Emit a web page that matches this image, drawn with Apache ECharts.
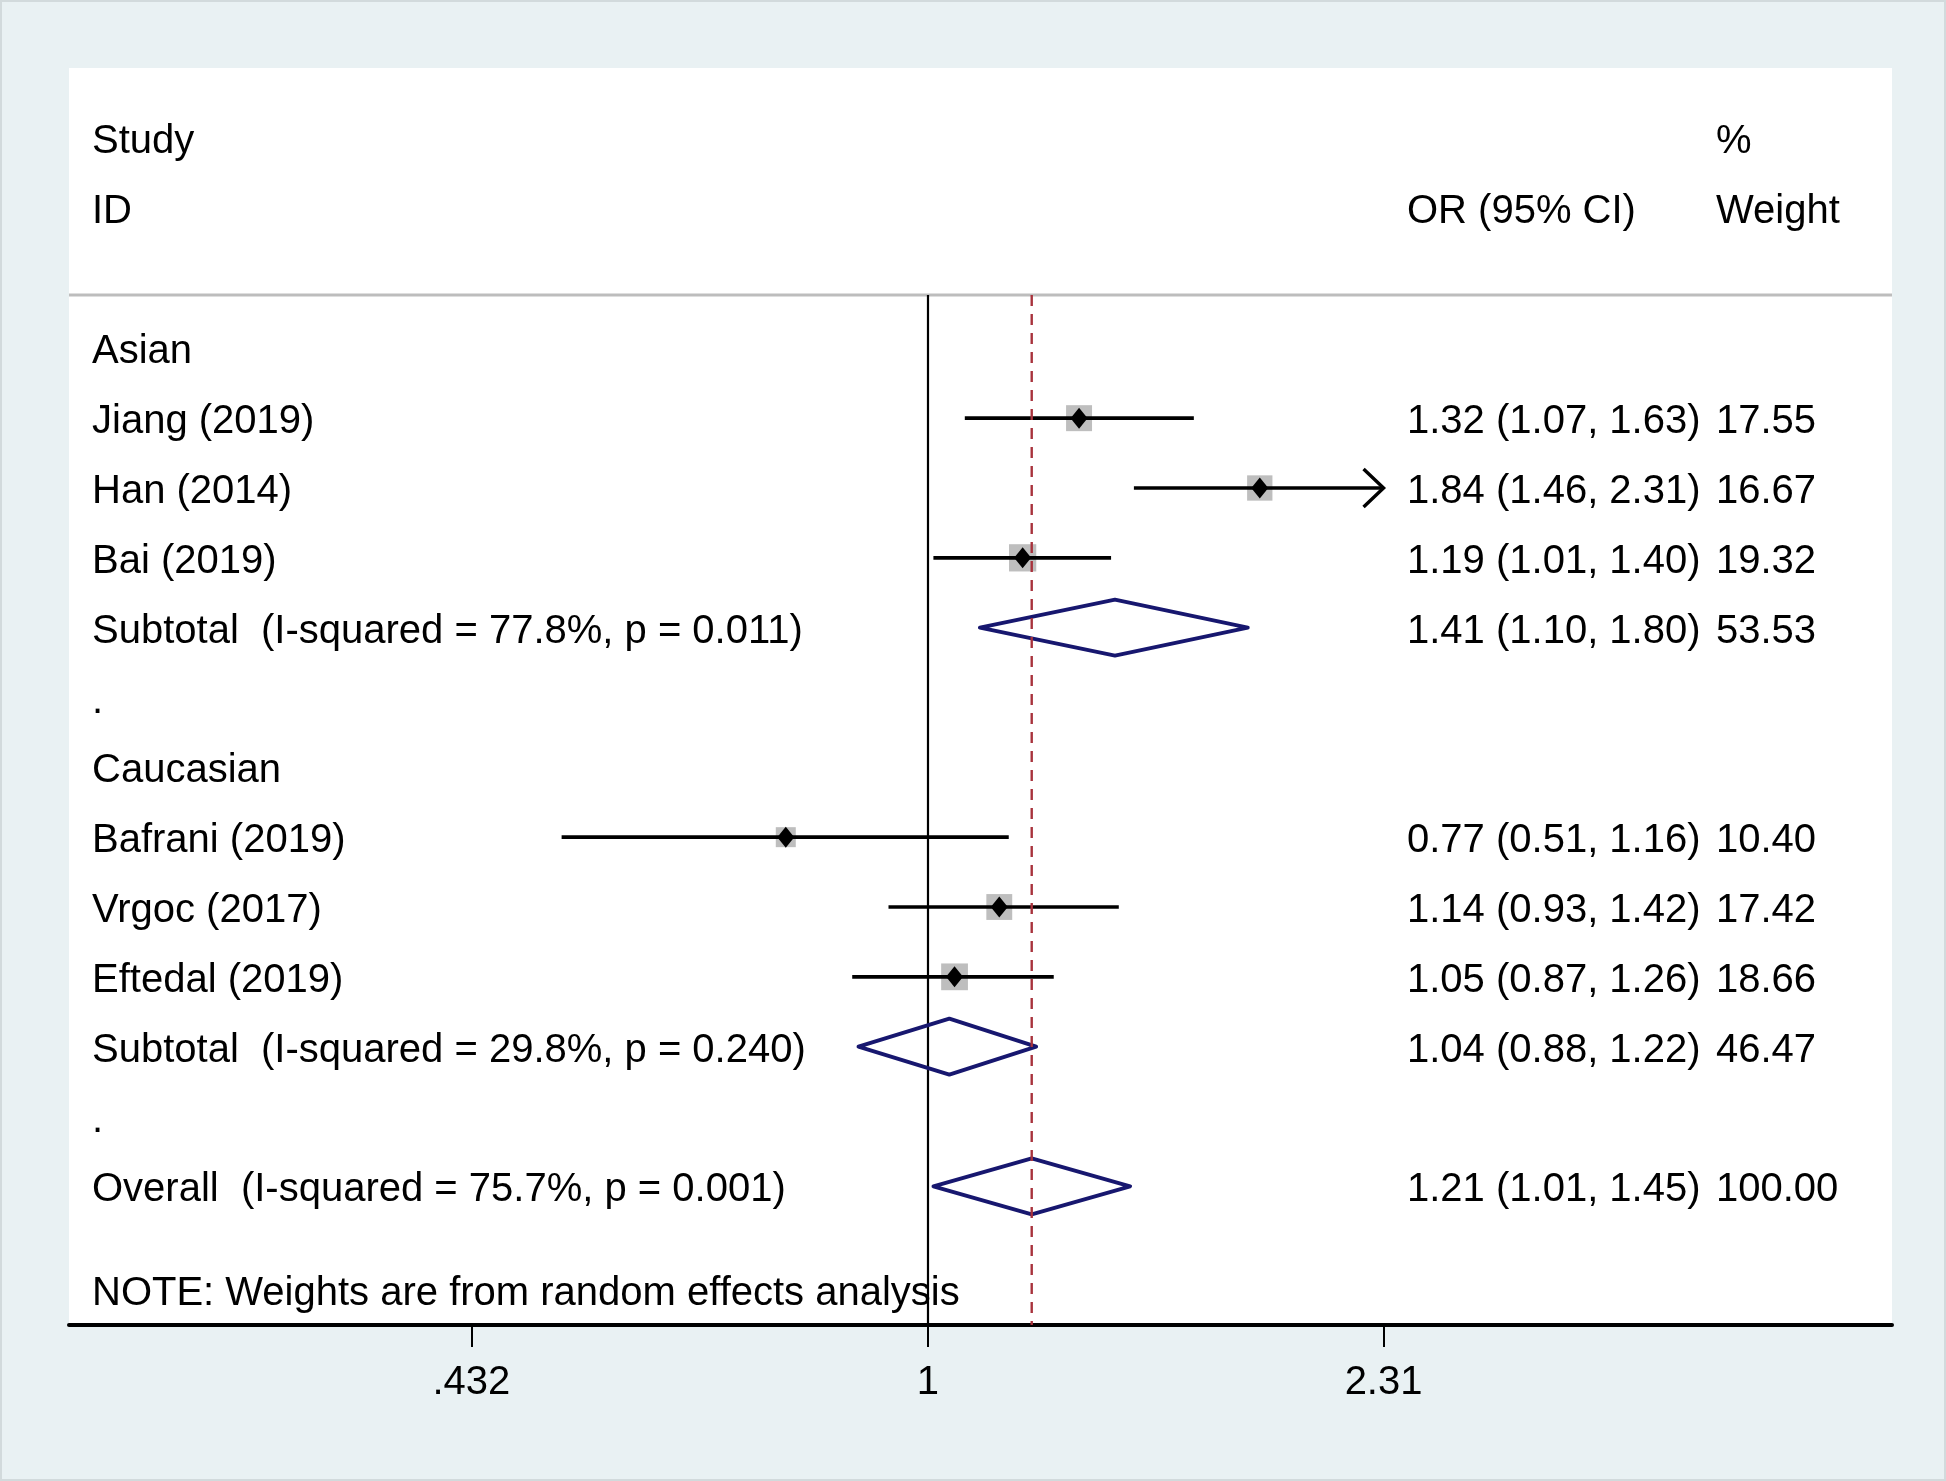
<!DOCTYPE html>
<html>
<head>
<meta charset="utf-8">
<script src="https://cdn.jsdelivr.net/npm/echarts@6/dist/echarts.min.js"></script>
<style>
html,body{margin:0;padding:0;background:#E9F1F3;}
#chart{width:1946px;height:1481px;}
</style>
</head>
<body>
<div id="chart"></div>
<script>
// ---------------- data ----------------
const rowLabels = [
  "Asian",
  "Jiang (2019)",
  "Han (2014)",
  "Bai (2019)",
  "Subtotal  (I-squared = 77.8%, p = 0.011)",
  ".",
  "Caucasian",
  "Bafrani (2019)",
  "Vrgoc (2017)",
  "Eftedal (2019)",
  "Subtotal  (I-squared = 29.8%, p = 0.240)",
  ".",
  "Overall  (I-squared = 75.7%, p = 0.001)"
];
const rowType = ["group","study","study","study","summary","blank","group","study","study","study","summary","blank","summary"];
const orValues = [null, 1.32, 1.84, 1.19, 1.41, null, null, 0.77, 1.14, 1.05, 1.04, null, 1.21];
const ciLower  = [null, 1.07, 1.46, 1.01, 1.10, null, null, 0.51, 0.93, 0.87, 0.88, null, 1.01];
const ciUpper  = [null, 1.63, 2.31, 1.40, 1.80, null, null, 1.16, 1.42, 1.26, 1.22, null, 1.45];
const weights  = [null, 17.55, 16.67, 19.32, 53.53, null, null, 10.40, 17.42, 18.66, 46.47, null, 100.00];
const overallOR = 1.21;
const nullValue = 1;
const tickValues = [0.432, 1, 2.31];
const tickLabels = [".432", "1", "2.31"];
const headerRowA = ["Study", "", "%"];
const headerRowB = ["ID", "OR (95% CI)", "Weight"];
const noteText = "NOTE: Weights are from random effects analysis";

// ---------------- layout / style ----------------
const FONT = '"Liberation Sans", Arial, Helvetica, sans-serif';
const FS = 40;
const TEXT_DY = 4;
const X_MIN = -1.5787, X_MAX = 1.7717;   // ln(OR) range of the plot region
const Y_MIN = -4, Y_MAX = 14, SEP_ROW = -0.75, HEADER_A = -3, HEADER_B = -2, NOTE_ROW = 13.5;
const NAVY = '#17176F';
const RED = '#A8323C';
const BOX = '#BEBEBE';
const ln = Math.log;

const chart = echarts.init(document.getElementById('chart'), null, {renderer: 'canvas'});

function colX(cs) {
  return [cs.x + 23, cs.x + cs.width - 485, cs.x + cs.width - 176];
}
function txt(text, x, y) {
  return {type: 'text', style: {text: text, x: x, y: y + TEXT_DY, fill: '#000', fontSize: FS, fontFamily: FONT, verticalAlign: 'middle', align: 'left'}};
}

function renderRow(params, api) {
  const i = params.dataIndex;
  const cs = params.coordSys;
  const cx = colX(cs);
  const y = api.coord([0, i])[1] + 1;
  const ch = [];
  ch.push(txt(rowLabels[i], cx[0], y));
  const t = rowType[i];
  if (t === 'study' || t === 'summary') {
    const or = orValues[i], lo = ciLower[i], hi = ciUpper[i];
    ch.push(txt(or.toFixed(2) + ' (' + lo.toFixed(2) + ', ' + hi.toFixed(2) + ')', cx[1], y));
    ch.push(txt(weights[i].toFixed(2), cx[2], y));
    const xo = api.coord([ln(or), i])[0];
    const xmaxT = tickValues[tickValues.length - 1], xminT = tickValues[0];
    const xl = api.coord([ln(Math.max(lo, xminT)), i])[0];
    const xh = api.coord([ln(Math.min(hi, xmaxT)), i])[0];
    if (t === 'study') {
      const s = 6.2 * Math.sqrt(weights[i]);
      ch.push({type: 'rect', shape: {x: xo - s / 2, y: y - s / 2, width: s, height: s}, style: {fill: BOX}});
      ch.push({type: 'line', shape: {x1: xl, y1: y, x2: xh, y2: y}, style: {stroke: '#000', lineWidth: 3.6}});
      if (hi >= xmaxT) {
        ch.push({type: 'polyline', shape: {points: [[xh - 20, y - 19], [xh, y], [xh - 20, y + 19]]}, style: {stroke: '#000', lineWidth: 3.4, fill: null}});
      }
      if (lo <= xminT) {
        ch.push({type: 'polyline', shape: {points: [[xl + 20, y - 19], [xl, y], [xl + 20, y + 19]]}, style: {stroke: '#000', lineWidth: 3.4, fill: null}});
      }
      ch.push({type: 'polygon', shape: {points: [[xo, y - 10.5], [xo + 8.5, y], [xo, y + 10.5], [xo - 8.5, y]]}, style: {fill: '#000'}});
    } else {
      const h = 28;
      ch.push({type: 'polygon', shape: {points: [[xl, y], [xo, y - h], [xh, y], [xo, y + h]]}, style: {fill: 'none', stroke: NAVY, lineWidth: 3.8, lineJoin: 'round'}});
    }
  }
  return {type: 'group', children: ch};
}

function renderHeader(params, api) {
  const i = params.dataIndex;
  const cs = params.coordSys;
  const cx = colX(cs);
  const ch = [];
  if (i === 0 || i === 1) {
    const row = i === 0 ? HEADER_A : HEADER_B;
    const arr = i === 0 ? headerRowA : headerRowB;
    const y = api.coord([0, row])[1];
    arr.forEach((s, k) => { if (s) ch.push(txt(s, cx[k], y)); });
  } else {
    const y = api.coord([0, NOTE_ROW])[1];
    ch.push(txt(noteText, cx[0], y));
  }
  return {type: 'group', children: ch};
}

const tickLn = tickValues.map(v => ln(v));

const option = {
  backgroundColor: '#E9F1F3',
  animation: false,
  graphic: [{type: 'rect', silent: true, z: 100, shape: {x: 1, y: 1, width: 1944, height: 1479}, style: {fill: 'none', stroke: '#D2DADC', lineWidth: 2}}],
  grid: {left: 69, right: 54, top: 68, bottom: 156, show: true, backgroundColor: '#FFFFFF', borderWidth: 0},
  xAxis: {
    type: 'value', min: X_MIN, max: X_MAX,
    splitLine: {show: false},
    axisLine: {show: true, onZero: false, lineStyle: {color: '#000', width: 4}},
    axisTick: {show: true, customValues: tickLn, length: 22, lineStyle: {color: '#000', width: 2}},
    axisLabel: {
      show: true, customValues: tickLn, margin: 38, color: '#000', fontSize: FS, fontFamily: FONT,
      formatter: function (v) {
        const k = tickLn.findIndex(t => Math.abs(t - v) < 1e-6);
        return k >= 0 ? tickLabels[k] : '';
      }
    }
  },
  yAxis: {
    type: 'value', inverse: true, min: Y_MIN, max: Y_MAX,
    show: false, splitLine: {show: false}
  },
  series: [
    {
      type: 'line', name: 'separator', symbol: 'none', silent: true, z: 1,
      data: [[X_MIN, SEP_ROW], [X_MAX, SEP_ROW]],
      lineStyle: {color: '#BDBDBD', width: 3}
    },
    {
      type: 'line', name: 'null', symbol: 'none', silent: true, z: 2,
      data: [[ln(nullValue), SEP_ROW], [ln(nullValue), Y_MAX]],
      lineStyle: {color: '#000', width: 2.2}
    },
    {
      type: 'custom', name: 'rows', renderItem: renderRow, clip: false, z: 3,
      data: rowLabels.map((s, i) => [orValues[i] ? ln(orValues[i]) : 0, i])
    },
    {
      type: 'line', name: 'overall', symbol: 'none', silent: true, z: 4,
      data: [[ln(overallOR), SEP_ROW], [ln(overallOR), Y_MAX]],
      lineStyle: {color: RED, width: 2.4, type: [11, 8]}
    },
    {
      type: 'custom', name: 'headers', renderItem: renderHeader, clip: false, z: 5,
      data: [[0, HEADER_A], [0, HEADER_B], [0, NOTE_ROW]]
    }
  ]
};
chart.setOption(option);
</script>
</body>
</html>
